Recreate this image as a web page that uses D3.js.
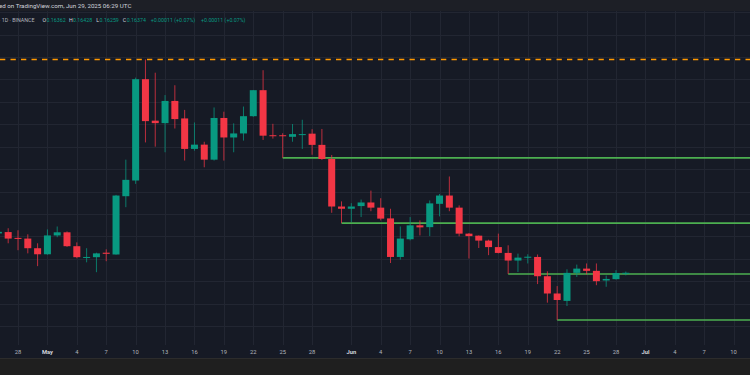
<!DOCTYPE html>
<html>
<head>
<meta charset="utf-8">
<script src="https://cdn.jsdelivr.net/npm/d3@7"></script>
<style>
  html, body { margin: 0; padding: 0; background: #161a25; overflow: hidden; }
  svg { display: block; font-family: Roboto, "Liberation Sans", sans-serif; }
</style>
</head>
<body>
<svg id="chart" width="750" height="375"></svg>
<script>
// DOGE/USDT daily, Apr 26 - Jun 29 2025 (one value per day)
const firstDay = "2025-04-26";
const lastDay = "2025-06-29";

const opens = [
  0.1813, 0.1819, 0.1793, 0.1790, 0.1747,
  0.1720, 0.1804, 0.1818, 0.1756, 0.1705, 0.1707, 0.1727, 0.1719, 0.1979, 0.2049,
  0.2501, 0.2316, 0.2305, 0.2404, 0.2326, 0.2190, 0.2209, 0.2142, 0.2328, 0.2241,
  0.2259, 0.2336, 0.2452, 0.2251, 0.2251, 0.2244, 0.2254, 0.2258, 0.2208, 0.2145, 0.1933,
  0.1923, 0.1935, 0.1951, 0.1928, 0.1880, 0.1708, 0.1787, 0.1849, 0.1841, 0.1945,
  0.1982, 0.1928, 0.1812, 0.1803, 0.1781, 0.1752, 0.1726, 0.1692, 0.1707, 0.1708,
  0.1622, 0.1545, 0.1512, 0.1637, 0.1656, 0.1646, 0.1603, 0.1609, 0.16362
];
const highs = [
  0.1831, 0.1836, 0.1827, 0.1809, 0.1769,
  0.1831, 0.1844, 0.1822, 0.1773, 0.1747, 0.1727, 0.1742, 0.1985, 0.2142, 0.2508,
  0.2589, 0.2530, 0.2430, 0.2474, 0.2364, 0.2308, 0.2222, 0.2375, 0.2356, 0.2304,
  0.2379, 0.2453, 0.2541, 0.2302, 0.2260, 0.2301, 0.2320, 0.2278, 0.2279, 0.2163, 0.1956,
  0.1948, 0.1964, 0.2004, 0.1970, 0.1923, 0.1844, 0.1886, 0.1871, 0.1960, 0.1989,
  0.2067, 0.1938, 0.1815, 0.1804, 0.1785, 0.1812, 0.1760, 0.1723, 0.1720, 0.1719,
  0.1644, 0.1578, 0.1653, 0.1674, 0.1679, 0.1679, 0.1625, 0.1649, 0.16428
];
const lows = [
  0.1804, 0.1769, 0.1738, 0.1724, 0.1667,
  0.1718, 0.1796, 0.1753, 0.1702, 0.1684, 0.1640, 0.1689, 0.1718, 0.1930, 0.2034,
  0.2219, 0.2200, 0.2175, 0.2281, 0.2138, 0.2182, 0.2108, 0.2138, 0.2138, 0.2175,
  0.2227, 0.2333, 0.2230, 0.2236, 0.2150, 0.2222, 0.2190, 0.2164, 0.2141, 0.1905, 0.1859,
  0.1864, 0.1886, 0.1912, 0.1871, 0.1681, 0.1696, 0.1782, 0.1804, 0.1801, 0.1889,
  0.1912, 0.1800, 0.1701, 0.1748, 0.1716, 0.1724, 0.1632, 0.1641, 0.1679, 0.1587,
  0.1504, 0.1427, 0.1489, 0.1619, 0.1630, 0.1582, 0.1575, 0.1607, 0.16259
];
const closes = [
  0.1820, 0.1790, 0.1790, 0.1747, 0.1720,
  0.1804, 0.1818, 0.1756, 0.1707, 0.1708, 0.1724, 0.1722, 0.1982, 0.2052, 0.2501,
  0.2314, 0.2305, 0.2404, 0.2323, 0.2190, 0.2209, 0.2142, 0.2328, 0.2241, 0.2259,
  0.2336, 0.2452, 0.2249, 0.2249, 0.2248, 0.2256, 0.2256, 0.2208, 0.2145, 0.1933, 0.1923,
  0.1933, 0.1951, 0.1928, 0.1879, 0.1708, 0.1790, 0.1849, 0.1840, 0.1947, 0.1982,
  0.1928, 0.1812, 0.1801, 0.1781, 0.1752, 0.1726, 0.1692, 0.1705, 0.1709, 0.1622,
  0.1545, 0.1516, 0.1637, 0.1656, 0.1646, 0.1600, 0.1610, 0.16362, 0.16374
];

// support lines drawn from a swing low to the right edge
const supportDates = ["2025-05-25", "2025-05-31", "2025-06-17", "2025-06-22"];
const supportPrices = [0.2150, 0.1859, 0.1632, 0.1427];
const topLevel = 0.2589;

const tickDates = ["2025-04-28", "2025-05-01", "2025-05-04", "2025-05-07", "2025-05-10",
  "2025-05-13", "2025-05-16", "2025-05-19", "2025-05-22", "2025-05-25", "2025-05-28",
  "2025-06-01", "2025-06-04", "2025-06-07", "2025-06-10", "2025-06-13", "2025-06-16",
  "2025-06-19", "2025-06-22", "2025-06-25", "2025-06-28", "2025-07-01", "2025-07-04",
  "2025-07-07", "2025-07-10"];
const tickLabels = ["28", "May", "4", "7", "10", "13", "16", "19", "22", "25", "28",
  "Jun", "4", "7", "10", "13", "16", "19", "22", "25", "28", "Jul", "4", "7", "10"];
const priceGrid = [0.14, 0.15, 0.16, 0.17, 0.18, 0.19, 0.20, 0.21, 0.22, 0.23, 0.24, 0.25, 0.26, 0.27, 0.28];

const upColor = "#089981";
const downColor = "#f23645";

const svg = d3.select("#chart");
const W = 750, H = 375;
const plotTop = 11, plotBottom = 345, axisBottom = 358;

const days = d3.utcDay.range(new Date(firstDay), d3.utcDay.offset(new Date(lastDay), 1));
const candles = days.map((d, i) => ({
  date: d, open: opens[i], high: highs[i], low: lows[i], close: closes[i]
}));

const x = d3.scaleUtc()
  .domain([new Date("2025-04-28"), new Date("2025-06-28")])
  .range([18, 616]);
const y = d3.scaleLinear()
  .domain([0.14, 0.26])
  .range([326, 57]);
const bodyW = 7;

// backgrounds
svg.append("rect").attr("width", W).attr("height", H).attr("fill", "#161a25");
svg.append("rect").attr("width", W).attr("height", plotTop).attr("fill", "#1d1f26");
svg.append("rect").attr("y", axisBottom).attr("width", W).attr("height", H - axisBottom).attr("fill", "#1f1f1f");
svg.append("line").attr("x1", 0).attr("x2", W).attr("y1", axisBottom + 0.5).attr("y2", axisBottom + 0.5)
  .attr("stroke", "#2c2c2c");

svg.append("clipPath").attr("id", "plot")
  .append("rect").attr("x", 0).attr("y", plotTop).attr("width", W).attr("height", plotBottom - plotTop);

const plot = svg.append("g").attr("clip-path", "url(#plot)");

// grid
plot.selectAll(".hgrid").data(priceGrid).enter().append("line")
  .attr("x1", 0).attr("x2", W)
  .attr("y1", d => Math.round(y(d)) + 0.5).attr("y2", d => Math.round(y(d)) + 0.5)
  .attr("stroke", "#222632");
plot.selectAll(".vgrid").data(tickDates).enter().append("line")
  .attr("x1", d => Math.round(x(new Date(d))) + 0.5).attr("x2", d => Math.round(x(new Date(d))) + 0.5)
  .attr("y1", plotTop).attr("y2", plotBottom)
  .attr("stroke", "#222632");

// top dashed level
plot.append("line")
  .attr("x1", 0).attr("x2", W)
  .attr("y1", y(topLevel)).attr("y2", y(topLevel))
  .attr("stroke", "#ff9800").attr("stroke-width", 1.6)
  .attr("stroke-dasharray", "5.3 5.2");

// support lines
plot.selectAll(".support").data(supportDates).enter().append("line")
  .attr("x1", d => x(new Date(d))).attr("x2", W)
  .attr("y1", (d, i) => y(supportPrices[i])).attr("y2", (d, i) => y(supportPrices[i]))
  .attr("stroke", "#4caf50").attr("stroke-width", 1.6);

// candles
const c = plot.selectAll(".candle").data(candles).enter().append("g");
c.append("line")
  .attr("x1", d => x(d.date)).attr("x2", d => x(d.date))
  .attr("y1", d => y(d.high)).attr("y2", d => y(d.low))
  .attr("stroke", d => d.close >= d.open ? upColor : downColor)
  .attr("stroke-opacity", 0.75)
  .attr("stroke-width", 1);
c.append("rect")
  .attr("x", d => x(d.date) - bodyW / 2)
  .attr("width", bodyW)
  .attr("y", d => y(Math.max(d.open, d.close)))
  .attr("height", d => Math.max(1, Math.abs(y(d.open) - y(d.close))))
  .attr("fill", d => d.close >= d.open ? upColor : downColor);

// time axis labels
svg.selectAll(".tick").data(tickDates).enter().append("text")
  .attr("x", d => x(new Date(d)))
  .attr("y", 354)
  .attr("text-anchor", "middle")
  .attr("font-size", "5.8px")
  .attr("font-weight", (d, i) => isNaN(+tickLabels[i]) ? 700 : 400)
  .attr("fill", (d, i) => isNaN(+tickLabels[i]) ? "#d1d4dc" : "#b2b5be")
  .text((d, i) => tickLabels[i]);

// header
svg.append("text")
  .attr("x", -1).attr("y", 8)
  .attr("font-size", "6.2px").attr("fill", "#d1d4dc")
  .text("ed on TradingView.com, Jun 29, 2025 06:29 UTC");

const last = candles[candles.length - 1];
const fmt = d3.format(".5f");
const header = [
  ["· 1D · BINANCE", -1, "#b2b5be"],
  ["O", 42.5, "#d1d4dc"], [fmt(last.open), 46.5, upColor],
  ["H", 69, "#d1d4dc"], [fmt(last.high), 73, upColor],
  ["L", 96.3, "#d1d4dc"], [fmt(last.low), 99.6, upColor],
  ["C", 122.7, "#d1d4dc"], [fmt(last.close), 126.7, upColor],
  ["+0.00011 (+0.07%)", 150.7, upColor],
  ["+0.00011 (+0.07%)", 201, upColor]
];
svg.selectAll(".hdr").data(header).enter().append("text")
  .attr("x", d => d[1]).attr("y", 22)
  .attr("font-size", "5.3px")
  .attr("fill", d => d[2])
  .text(d => d[0]);
</script>
</body>
</html>
